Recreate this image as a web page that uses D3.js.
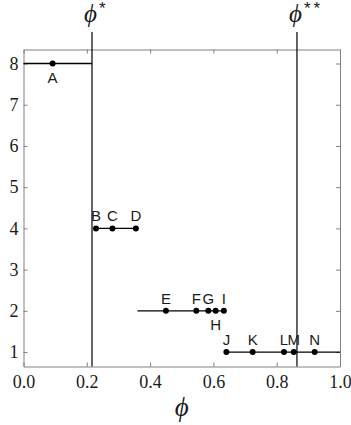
<!DOCTYPE html>
<html>
<head>
<meta charset="utf-8">
<title>phi steps</title>
<script src="https://cdn.jsdelivr.net/npm/d3@7"></script>
</head>
<body style="margin:0">
<svg id="steps"></svg>
<script>
// values
const thresholdNames = ['*', '**']
const thresholdPhi = [0.2164, 0.864]
const xTicks = [0, 0.2, 0.4, 0.6, 0.8, 1.0]
const yTicks = [1, 2, 3, 4, 5, 6, 7, 8]
const pointNames = ['A', 'B', 'C', 'D', 'E', 'F', 'G', 'H', 'I', 'J', 'K', 'L', 'M', 'N']
const pointPhi = [0.092, 0.229, 0.281, 0.355, 0.450, 0.546, 0.584, 0.607, 0.633, 0.641, 0.724, 0.823, 0.854, 0.920]
const pointLevel = [8, 4, 4, 4, 2, 2, 2, 2, 2, 1, 1, 1, 1, 1]
const namesBelow = ['A', 'H']
const stepLevels = [8, 4, 2, 1]
const stepFrom = [0, 0.229, 0.360, 0.641]
const stepTo = [0.2164, 0.357, 0.633, 1.0]

const W = 351
const H = 425
const box = { top: 49.5, right: 11, bottom: 58.5, left: 23.5 }
const SERIF = 'Liberation Serif'
const SANS = 'Liberation Sans'
const grey = '#808080'
const ink = '#1a1a1a'

const root = d3.select('#steps').attr('width', W).attr('height', H)

const xs = d3.scaleLinear().domain([0, 1]).range([box.left, W - box.right])
const ys = d3.scaleLinear().domain([0.65, 8.34]).range([H - box.bottom, box.top])

function styleAxis (g) {
    g.attr('font-family', SERIF).attr('font-size', 18)
    g.select('.domain').attr('stroke', grey)
    g.selectAll('.tick line').attr('stroke', grey)
    g.selectAll('.tick text').attr('fill', ink)
}

// frame with inward ticks on all four sides
root.append('g')
    .attr('transform', `translate(0, ${H - box.bottom})`)
    .call(d3.axisBottom(xs).tickValues(xTicks).tickFormat(d => d.toFixed(1)).tickSizeInner(-4).tickSizeOuter(0).tickPadding(9))
    .call(styleAxis)
    .selectAll('.tick text').attr('dy', '0.71em')
root.append('g')
    .attr('transform', `translate(0, ${box.top})`)
    .call(d3.axisTop(xs).tickValues(xTicks).tickFormat('').tickSizeInner(-4).tickSizeOuter(0))
    .call(styleAxis)
root.append('g')
    .attr('transform', `translate(${box.left}, 0)`)
    .call(d3.axisLeft(ys).tickValues(yTicks).tickFormat(d => String(d)).tickSizeInner(-4).tickSizeOuter(0).tickPadding(5))
    .call(styleAxis)
root.append('g')
    .attr('transform', `translate(${W - box.right}, 0)`)
    .call(d3.axisRight(ys).tickValues(yTicks).tickFormat('').tickSizeInner(-4).tickSizeOuter(0))
    .call(styleAxis)

// horizontal steps
root.append('g')
    .selectAll('line')
    .data(stepLevels)
    .join('line')
    .attr('x1', (d, i) => xs(stepFrom[i]))
    .attr('x2', (d, i) => xs(stepTo[i]))
    .attr('y1', d => ys(d))
    .attr('y2', d => ys(d))
    .attr('stroke', '#000')
    .attr('stroke-width', 1.3)

// phi* and phi** lines, poking out above the frame
const th = root.append('g')
    .selectAll('g')
    .data(thresholdPhi)
    .join('g')

th.append('line')
    .attr('x1', d => xs(d))
    .attr('x2', d => xs(d))
    .attr('y1', 32)
    .attr('y2', ys.range()[0])
    .attr('stroke', '#000')
    .attr('stroke-width', 1.2)

const thLabel = th.append('text')
    .attr('x', d => xs(d) - 8)
    .attr('y', 22)
    .attr('font-family', SERIF)
    .attr('fill', ink)
thLabel.append('tspan')
    .attr('font-style', 'italic')
    .attr('font-size', 25)
    .text('\u03D5')
thLabel.append('tspan')
    .attr('font-family', SANS)
    .attr('font-size', 17)
    .attr('dx', 2)
    .attr('dy', -8)
    .attr('letter-spacing', 3)
    .text((d, i) => thresholdNames[i])

// points and their letters
root.append('g')
    .selectAll('circle')
    .data(pointPhi)
    .join('circle')
    .attr('cx', d => xs(d))
    .attr('cy', (d, i) => ys(pointLevel[i]))
    .attr('r', 3)
    .attr('fill', '#000')

root.append('g')
    .attr('font-family', SANS)
    .attr('font-size', 15)
    .attr('text-anchor', 'middle')
    .attr('fill', ink)
    .selectAll('text')
    .data(pointNames)
    .join('text')
    .attr('x', (d, i) => xs(pointPhi[i]))
    .attr('y', (d, i) => ys(pointLevel[i]) + (namesBelow.includes(d) ? 19 : -7))
    .text(d => d)

// x title
root.append('text')
    .attr('x', xs(0.5))
    .attr('y', 416)
    .attr('text-anchor', 'middle')
    .attr('font-family', SERIF)
    .attr('font-style', 'italic')
    .attr('font-size', 27)
    .attr('fill', ink)
    .text('\u03D5')
</script>
</body>
</html>
